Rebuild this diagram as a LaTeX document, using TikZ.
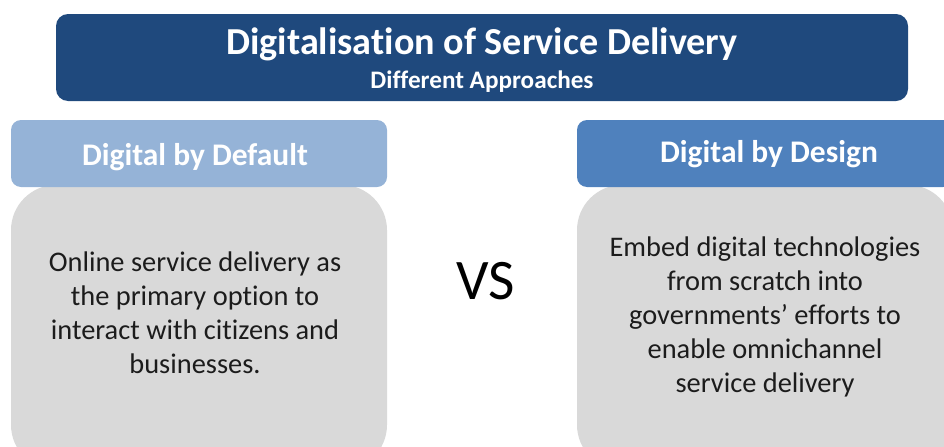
\documentclass[tikz,border=0pt]{standalone}
\usepackage{fontspec}
\setmainfont{Carlito}[Ligatures=NoCommon]
\usetikzlibrary{positioning}
\definecolor{bannerblue}{HTML}{1F497D}
\definecolor{paleblue}{HTML}{95B3D7}
\definecolor{midblue}{HTML}{4F81BD}
\definecolor{panelgray}{HTML}{D9D9D9}
\definecolor{inktext}{HTML}{1C1C1C}
\begin{document}
\begin{tikzpicture}[
         x=0.75pt, y=-0.75pt,
         banner/.style={rectangle, rounded corners=9pt, fill=bannerblue, minimum width=639pt, minimum height=65.25pt},
         header/.style={rectangle, rounded corners=7.5pt, minimum width=282pt, minimum height=50.25pt},
         panel/.style={rectangle, rounded corners=34pt, fill=panelgray, minimum width=282pt, minimum height=214pt},
         headtext/.style={font=\fontsize{23.6}{27}\selectfont\bfseries, text=white},
         paneltext/.style={font=\fontsize{21.3}{25.5}\selectfont, text=inktext, align=center}
      ]
         \clip (0,0) rectangle (944,446);

         % Title banner
         \node[banner] (banner) at (482,57.5) {};
         \node[font=\fontsize{28.6}{32}\selectfont\bfseries, text=white] (title) at (482,44) {Digitalisation of Service Delivery};
         \node[font=\fontsize{18.9}{21}\selectfont\bfseries, text=white] (subtitle) at (482,81.5) {Different Approaches};

         % Panels
         \node[panel] (leftpanel) at (199,327.5) {};
         \node[panel] (rightpanel) at (765,327.5) {};
         \node[header, fill=paleblue] (lefthead) at (199,153.5) {};
         \node[header, fill=midblue] (righthead) at (765,153.5) {};
         \node[headtext] (lefttitle) at (195,157) {Digital by Default};
         \node[headtext] (righttitle) at (769,154) {Digital by Design};

         % Panel texts
         \node[paneltext] (lefttext) at (195,313) {Online service delivery as\\the primary option to\\interact with citizens and\\businesses.};
         \node[paneltext] (righttext) at (765,316.5) {Embed digital technologies\\from scratch into\\governments’ efforts to\\enable omnichannel\\service delivery};

         % Versus
         \node[font=\fontsize{43}{48}\selectfont] (versus) at (486,281) {VS};
      \end{tikzpicture}
\end{document}
